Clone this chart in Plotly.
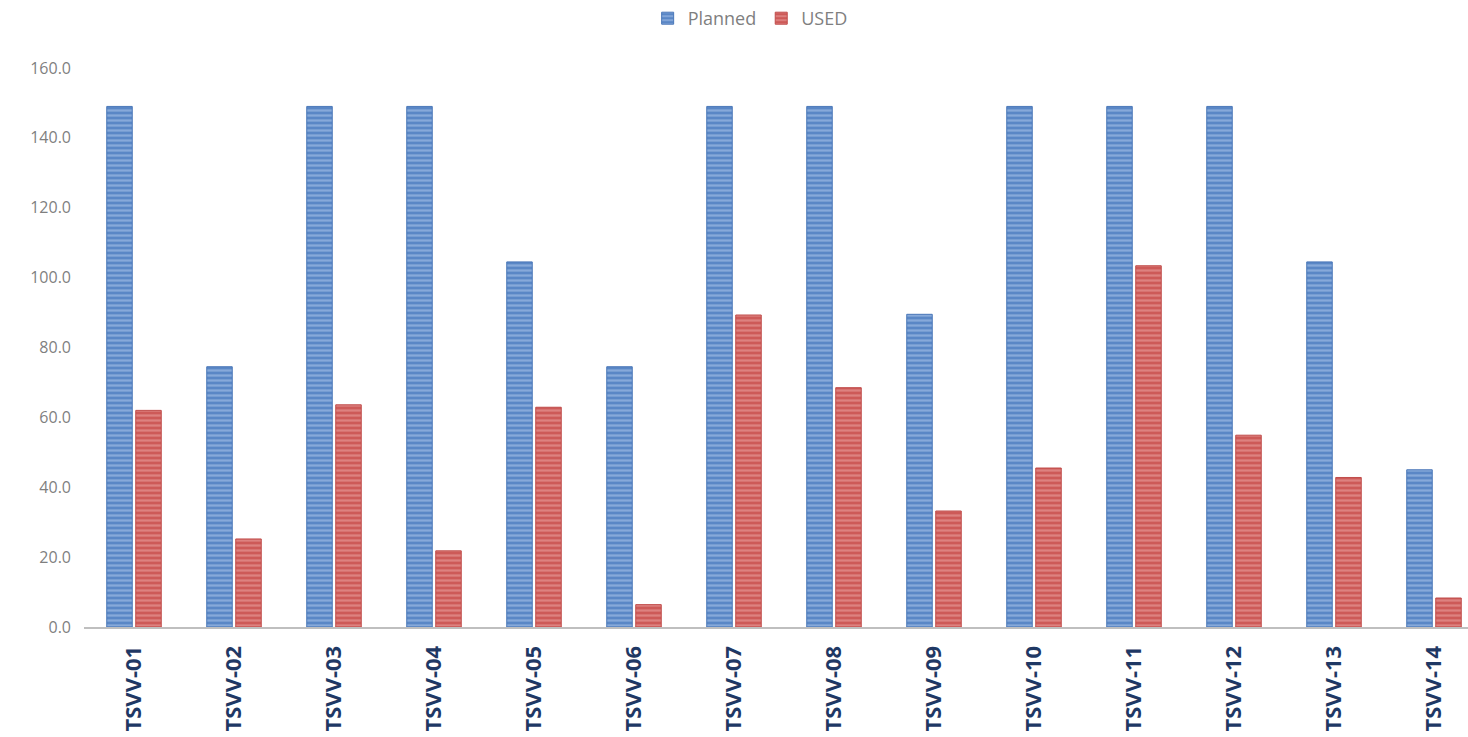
import plotly.graph_objects as go

categories = ["TSVV-01", "TSVV-02", "TSVV-03", "TSVV-04", "TSVV-05", "TSVV-06", "TSVV-07",
              "TSVV-08", "TSVV-09", "TSVV-10", "TSVV-11", "TSVV-12", "TSVV-13", "TSVV-14"]
planned = [149, 74.5, 149, 149, 104.5, 74.5, 149, 149, 89.5, 149, 149, 149, 104.5, 45]
used = [62, 25.2, 63.6, 21.8, 62.9, 6.4, 89.3, 68.5, 33.2, 45.5, 103.4, 54.9, 42.8, 8.3]
y_ticks = [0, 20, 40, 60, 80, 100, 120, 140, 160]

fig = go.Figure()
fig.add_trace(go.Bar(
    x=categories, y=planned, name="Planned",
    marker=dict(color="#5a87c6", line=dict(color="#4a77b8", width=1),
                pattern=dict(shape="-", fgcolor="#b3cbee", size=5, solidity=0.45)),
))
fig.add_trace(go.Bar(
    x=categories, y=used, name="USED",
    marker=dict(color="#cd5a58", line=dict(color="#c04c4a", width=1),
                pattern=dict(shape="-", fgcolor="#eeaaa8", size=5, solidity=0.45)),
))

fig.update_layout(
    width=1468, height=737,
    margin=dict(l=84, r=0, t=68, b=110),
    paper_bgcolor="white", plot_bgcolor="white",
    barmode="group", bargap=0.42, bargroupgap=0.12,
    font=dict(family="Open Sans, Liberation Sans, sans-serif", color="#7f7f7f"),
    legend=dict(orientation="h", x=0.511, xanchor="center", xref="container",
                y=1.0, yref="container", yanchor="top",
                font=dict(size=18, color="#7f7f7f"), itemwidth=30,
                traceorder="normal"),
    showlegend=True,
)
fig.update_xaxes(
    range=[-0.5, 13.34], tickangle=-90,
    tickfont=dict(size=22, color="#1f3864", family="Open Sans, Liberation Sans, sans-serif", weight="bold"),
    showline=True, linecolor="#bfbfbf", linewidth=2, ticks="", showgrid=False,
    ticklabelstandoff=8,
)
fig.update_yaxes(
    range=[0, 160], tickvals=y_ticks, tickformat=".1f",
    tickfont=dict(size=16, color="#7f7f7f"), showgrid=False, zeroline=False,
    showline=False, ticks="", ticklabelstandoff=12,
)
fig.write_html("out.html")
